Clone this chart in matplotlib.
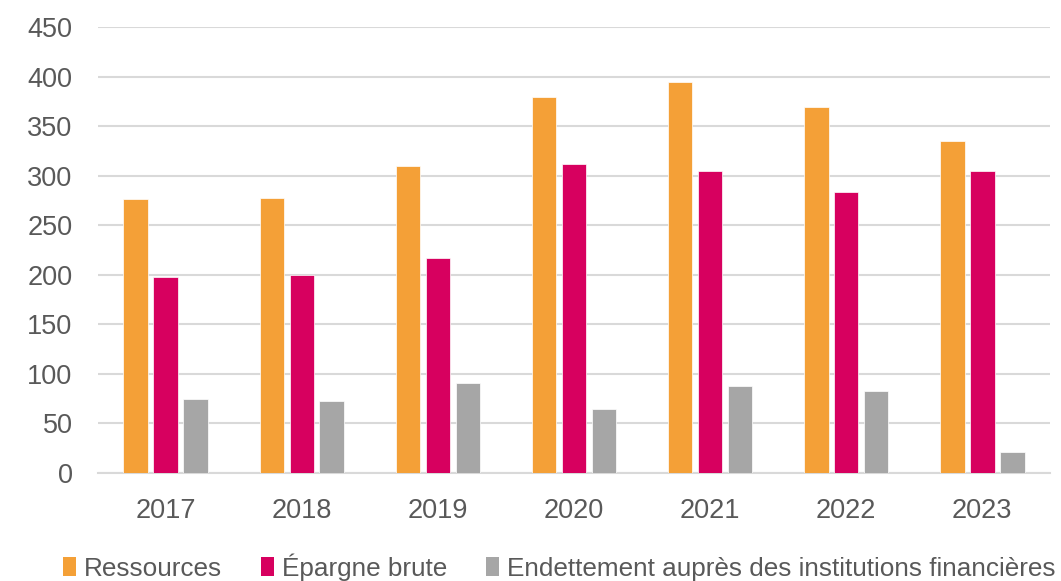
import matplotlib
matplotlib.use("Agg")
import matplotlib.pyplot as plt
import numpy as np
from matplotlib.patches import Patch

years = ["2017", "2018", "2019", "2020", "2021", "2022", "2023"]
ressources = [276, 277, 310, 379, 395, 369, 335]
epargne = [198, 200, 217, 312, 305, 284, 305]
endettement = [75, 73, 91, 65, 88, 83, 21]
series_names = ["Ressources", "Épargne brute", "Endettement auprès des institutions financières"]
colors = ["#F4A037", "#D7005F", "#A6A6A6"]

plt.rcParams["font.family"] = ["Liberation Sans", "DejaVu Sans"]
fig = plt.figure(figsize=(10.61, 5.81), dpi=100)
ax = fig.add_axes([0.092, 0.186, 0.898, 0.7675])

x = np.arange(len(years))
w = 0.18
step = 0.22
for i, (vals, c) in enumerate(zip([ressources, epargne, endettement], colors)):
    ax.bar(x + (i - 1) * step, vals, width=w, color=c, zorder=3,
           edgecolor="white", linewidth=0.5)

ax.set_xlim(-0.5, len(years) - 0.5)
ax.set_ylim(0, 450)
ax.set_yticks(range(0, 451, 50))
ax.set_xticks(x)
ax.set_xticklabels(years)
ax.yaxis.grid(True, color="#D9D9D9", linewidth=1.5, zorder=0)
ax.set_axisbelow(True)
for s in ["top", "right", "left"]:
    ax.spines[s].set_visible(False)
ax.spines["bottom"].set_color("#D9D9D9")
ax.spines["bottom"].set_linewidth(1.5)
ax.tick_params(axis="both", length=0, labelsize=19.5, colors="#595959")
ax.tick_params(axis="x", pad=18)
ax.tick_params(axis="y", pad=18)

handles = [Patch(facecolor=c, edgecolor="none") for c in colors]
fig.legend(handles, series_names, loc="lower center", ncol=3, frameon=False,
           bbox_to_anchor=(0.527, -0.04), fontsize=18.8, handlelength=0.5,
           handleheight=0.7, handletextpad=0.3, columnspacing=1.5,
           labelcolor="#595959")

fig.savefig("out.png", dpi=100)
